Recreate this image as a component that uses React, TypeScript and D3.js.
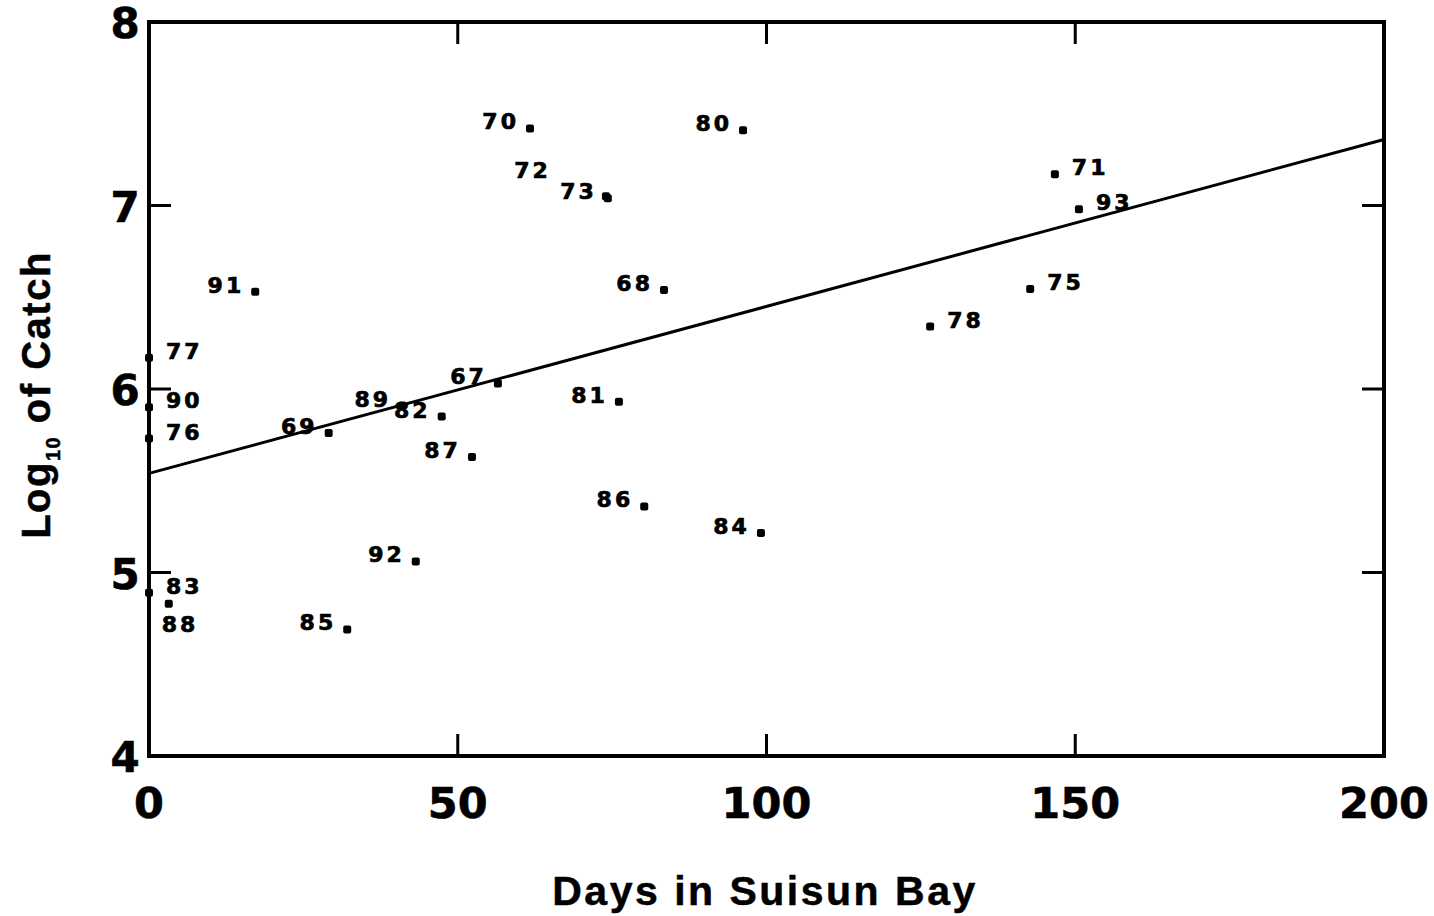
import React from "react";
import * as d3 from "d3";

// ---- data ----
const years = ["70", "80", "72", "73", "91", "68", "71", "93", "75", "78", "67", "81", "89", "82", "69", "87", "86", "84", "92", "85", "88", "83", "77", "90", "76"];
const daysInBay = [61.7, 96.2, 74.0, 74.3, 17.2, 83.4, 146.7, 150.6, 142.7, 126.5, 56.5, 76.1, 41.0, 47.4, 29.1, 52.3, 80.2, 99.1, 43.2, 32.1, 3.2, 0, 0, 0, 0];
const logCatch = [7.42, 7.41, 7.05, 7.04, 6.53, 6.54, 7.17, 6.98, 6.545, 6.34, 6.03, 5.93, 5.91, 5.85, 5.76, 5.63, 5.36, 5.215, 5.06, 4.69, 4.83, 4.89, 6.17, 5.90, 5.73];
const labelSide = ["left", "left", "upleft", "left", "left", "left", "right", "right", "right", "right", "left", "left", "left", "left", "left", "left", "left", "left", "left", "left", "below", "right", "right", "right", "right"];
const xTicks = [0, 50, 100, 150, 200];
const yTicks = [4, 5, 6, 7, 8];
const regIntercept = 5.54;
const regSlope = 0.0091;

const W = 1434;
const H = 916;
const M = { left: 149, right: W - 1384, top: 22, bottom: H - 756 };

export default function App() {
  const x = d3.scaleLinear().domain([0, 200]).range([M.left, W - M.right]);
  const y = d3.scaleLinear().domain([4, 8]).range([H - M.bottom, M.top]);
  const x0 = x(0), x1 = x(200), y0 = y(4), y1 = y(8);
  const tickLen = 22;
  const line = d3.line<number>().x((d) => x(d)).y((d) => y(regIntercept + regSlope * d));
  const digitFont = "'DejaVu Sans', sans-serif";
  const titleFont = "'Liberation Sans', Arial, sans-serif";
  const ls = 3;

  const labelProps = (side: string, px: number, py: number) => {
    switch (side) {
      case "right":
        return { x: px + 17, y: py + 1, anchor: "start" };
      case "upleft":
        return { x: px - 58 + ls, y: py - 18, anchor: "end" };
      case "below":
        return { x: px - 7, y: py + 28, anchor: "start" };
      default:
        return { x: px - 14 + ls, y: py + 1, anchor: "end" };
    }
  };

  return (
    <svg width={W} height={H} style={{ position: "absolute", left: 0, top: 0, background: "#fff" }}>
      {/* regression line */}
      <path d={line([0, 200]) || ""} fill="none" stroke="#000" strokeWidth={3} />
      {/* frame */}
      <rect x={x0} y={y1} width={x1 - x0} height={y0 - y1} fill="none" stroke="#000" strokeWidth={4} />
      {/* x ticks (inward, top & bottom) */}
      {xTicks.slice(1, -1).map((t) => (
        <g key={"xt" + t}>
          <line x1={x(t)} x2={x(t)} y1={y0} y2={y0 - tickLen} stroke="#000" strokeWidth={3} />
          <line x1={x(t)} x2={x(t)} y1={y1} y2={y1 + tickLen} stroke="#000" strokeWidth={3} />
        </g>
      ))}
      {/* y ticks (inward, left & right) */}
      {yTicks.slice(1, -1).map((t) => (
        <g key={"yt" + t}>
          <line x1={x0} x2={x0 + tickLen} y1={y(t)} y2={y(t)} stroke="#000" strokeWidth={3} />
          <line x1={x1} x2={x1 - tickLen} y1={y(t)} y2={y(t)} stroke="#000" strokeWidth={3} />
        </g>
      ))}
      {/* x tick labels */}
      {xTicks.map((t) => (
        <text key={"xl" + t} x={x(t)} y={818} textAnchor="middle" fontFamily={digitFont} fontWeight="bold" fontSize={43} stroke="#000" strokeWidth={0.6}>
          {t}
        </text>
      ))}
      {/* y tick labels */}
      {yTicks.map((t) => (
        <text key={"yl" + t} x={125} y={y(t) + 1} dy="0.36em" textAnchor="middle" fontFamily={digitFont} fontWeight="bold" fontSize={42} stroke="#000" strokeWidth={0.6}>
          {t}
        </text>
      ))}
      {/* points */}
      {years.map((yr, i) => {
        const px = x(daysInBay[i]);
        const py = y(logCatch[i]);
        const lp = labelProps(labelSide[i], px, py);
        return (
          <g key={"p" + yr}>
            <rect x={px - 4} y={py - 4} width={8} height={8} rx={2} fill="#000" />
            <text x={lp.x} y={lp.y} textAnchor={lp.anchor} fontFamily={digitFont} fontWeight="bold" fontSize={22} letterSpacing={ls} stroke="#000" strokeWidth={0.7}>
              {yr}
            </text>
          </g>
        );
      })}
      {/* axis titles */}
      <text x={765} y={905} textAnchor="middle" fontFamily={titleFont} fontWeight="bold" fontSize={41} letterSpacing={2.5} stroke="#000" strokeWidth={0.5}>
        Days in Suisun Bay
      </text>
      <text transform="translate(50,395) rotate(-90)" textAnchor="middle" fontFamily={titleFont} fontWeight="bold" fontSize={40} letterSpacing={1.5} stroke="#000" strokeWidth={0.5}>
        Log
        <tspan fontSize={20} dy={10}>10</tspan>
        <tspan dy={-10}> of Catch</tspan>
      </text>
    </svg>
  );
}
